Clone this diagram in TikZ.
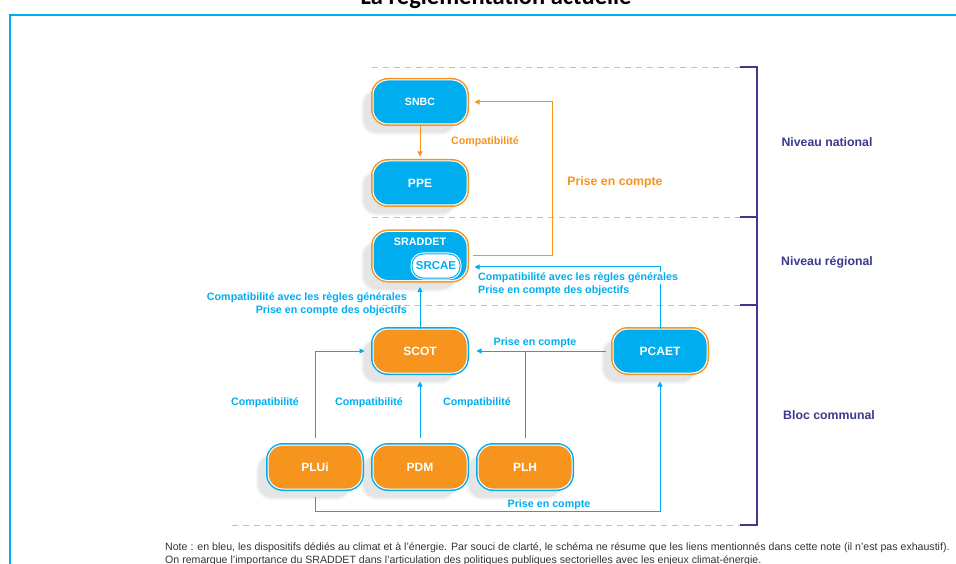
\documentclass[tikz,border=0pt]{standalone}
\usepackage{fontspec}
\setmainfont{Liberation Sans}
\newfontfamily\notefont{Liberation Sans}
\newfontfamily\titrefont{Carlito}
\usetikzlibrary{arrows.meta,shadows}
\definecolor{ciel}{HTML}{00AEEF}
\definecolor{orang}{HTML}{F7941D}
\definecolor{nuit}{HTML}{3B3A8F}
\definecolor{lavande}{HTML}{BDB8E3}
\definecolor{gristexte}{HTML}{333333}
\tikzset{
  bulle/.style={rectangle, rounded corners=15pt, minimum width=94pt, minimum height=44pt, text=white,
    font=\bfseries\fontsize{12}{12}\selectfont, draw=white, line width=1pt,
    drop shadow={shadow xshift=-11pt, shadow yshift=-10pt, fill=black!10, draw=black!4, line width=2pt, opacity=1}},
  climat/.style={bulle, fill=ciel, preaction={draw=orang, line width=4pt}},
  urba/.style={bulle, fill=orang, preaction={draw=ciel, line width=4pt}},
  fleche/.style={-{Triangle[length=5pt,width=5pt]}, line width=1pt},
  lienbleu/.style={text=ciel, font=\bfseries\fontsize{10.7}{12.8}\selectfont, inner sep=1pt},
  lienorange/.style={text=orang, font=\bfseries\fontsize{10.7}{12.8}\selectfont, inner sep=1pt},
  niveau/.style={text=nuit, font=\bfseries\fontsize{12.3}{12.3}\selectfont},
  separ/.style={lavande, line width=0.8pt, dash pattern=on 6pt off 5pt}
}
\begin{document}
\begin{tikzpicture}[x=1pt,y=-1pt]
\useasboundingbox (0,0) rectangle (956,564);
\clip (0,0) rectangle (956,564);
\fill[white] (0,0) rectangle (956,564);

\node (titre) at (496,5) [anchor=base, font=\titrefont\bfseries\fontsize{24.5}{24.5}\selectfont]{La réglementation actuelle};
\draw[ciel, line width=2.5pt] (10,600) -- (10,15) -- (1000,15);

\draw[separ] (372,67) -- (740,67);
\draw[separ] (372,217) -- (740,217);
\draw[separ] (382,305) -- (740,305);
\draw[separ] (232,525) -- (740,525);
\draw[nuit, line width=1.2pt] (740,67) -- (757,67) -- (757,525) -- (740,525);
\draw[nuit, line width=1.2pt] (740,217) -- (757,217);
\draw[nuit, line width=1.2pt] (740,305) -- (757,305);

\node (national) at (827,142) [niveau]{Niveau national};
\node (regional) at (827,262) [niveau]{Niveau régional};
\node (communal) at (829,415) [niveau]{Bloc communal};

\node (snbc) at (420,102) [climat, font=\bfseries\fontsize{10.6}{10.6}\selectfont]{SNBC};
\node (ppe) at (420,183) [climat]{PPE};
\node (sraddet) at (420,256) [climat, minimum height=49pt]{};
\node (sraddettxt) at (420,242) [text=white, font=\bfseries\fontsize{10.8}{10.8}\selectfont]{SRADDET};
\node (srcae) at (436,266) [rectangle, rounded corners=11pt, minimum width=48pt, minimum height=24pt, fill=white, draw=ciel, line width=1pt,
  preaction={draw=white, line width=3pt}, text=ciel, font=\bfseries\fontsize{11.5}{11.5}\selectfont]{SRCAE};
\node (scot) at (420,351) [urba]{SCOT};
\node (pcaet) at (660,351) [climat]{PCAET};
\node (plh) at (525,467) [urba]{PLH};
\node (pdm) at (420,467) [urba]{PDM};
\node (plui) at (315,467) [urba]{PLUi};

\draw[fleche, orang, shorten <=2pt, shorten >=4pt] (snbc) -- (ppe);
\node (compsnbc) at (485,142) [lienorange]{Compatibilité};
\draw[fleche, orang, shorten <=5pt, shorten >=7pt] (sraddet.east) -- ++(85,0) |- (snbc.east);
\node (prisesnbc) at (615,182) [text=orang, font=\bfseries\fontsize{12.3}{12.3}\selectfont]{Prise en compte};

\draw[fleche, ciel, shorten >=7pt] (pcaet.north) |- ([yshift=-11pt]sraddet.east);
\node (regpcaet) at (477,278) [lienbleu, anchor=west, fill=white]{Compatibilité avec les règles générales};
\node (objpcaet) at (477,291) [lienbleu, anchor=west]{Prise en compte des objectifs};

\draw[fleche, ciel, shorten >=6pt] (scot) -- (sraddet);
\node (regscot) at (408,304.5) [lienbleu, anchor=east, align=right]{Compatibilité avec les règles générales\\Prise en compte des objectifs};

\draw[fleche, ciel, shorten <=7pt, shorten >=9pt] (pcaet.west) -- (scot.east);
\node (prisescot) at (535,343) [lienbleu]{Prise en compte};

\draw[ciel, line width=1pt, shorten <=7pt] (plh.north) -- (plh.north |- scot.east);
\node (compplh) at (477,403) [lienbleu]{Compatibilité};
\draw[fleche, ciel, shorten <=7pt, shorten >=8pt] (pdm) -- (scot);
\node (comppdm) at (369,403) [lienbleu]{Compatibilité};
\draw[fleche, ciel, shorten <=7pt, shorten >=8pt] (plui.north) |- (scot.west);
\node (compplui) at (265,403) [lienbleu]{Compatibilité};

\draw[fleche, ciel, shorten <=7pt, shorten >=8pt] (plui.south) -- ++(0,22) -| (pcaet.south);
\node (prisepcaet) at (549,505) [lienbleu]{Prise en compte};

\node (note1) at (165,550) [anchor=base west, inner sep=0pt, text=gristexte, font=\notefont\fontsize{10.6}{10.6}\selectfont]{Note : en bleu, les dispositifs dédiés au climat et à l’énergie. Par souci de clarté, le schéma ne résume que les liens mentionnés dans cette note (il n’est pas exhaustif).};
\node (note2) at (165,563.5) [anchor=base west, inner sep=0pt, text=gristexte, font=\notefont\fontsize{10.6}{10.6}\selectfont]{On remarque l’importance du SRADDET dans l’articulation des politiques publiques sectorielles avec les enjeux climat-énergie.};
\end{tikzpicture}
\end{document}
